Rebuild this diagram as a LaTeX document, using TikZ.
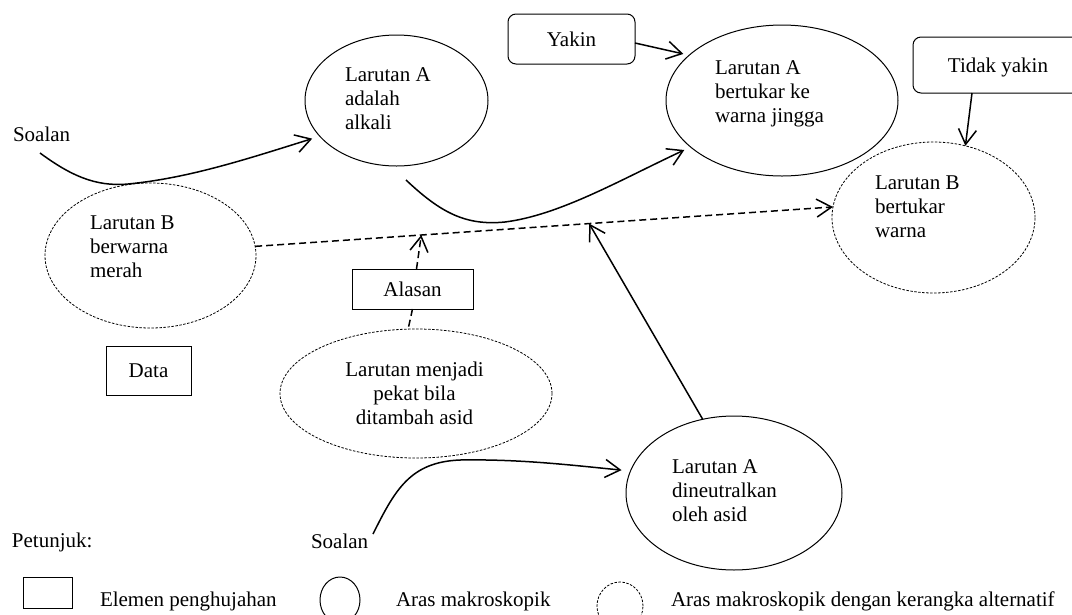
\documentclass[tikz,border=0pt]{standalone}
\usepackage{fontspec}
\setmainfont{Liberation Serif}
\usetikzlibrary{shapes.geometric,arrows.meta,calc}
\begin{document}
\begin{tikzpicture}[x=1pt,y=-1pt,
  txt/.style={font=\fontsize{21}{23.7}\selectfont, inner sep=0pt, outer sep=0pt},
  mtxt/.style={txt, align=left, anchor=north west},
  btxt/.style={txt, anchor=base west},
  macro/.style={ellipse, draw, line width=1pt, inner sep=0pt, outer sep=0pt},
  altern/.style={ellipse, draw, line width=0.8pt, dash pattern=on 2.5pt off 1.5pt, inner sep=0pt, outer sep=0pt},
  elem/.style={rectangle, draw, line width=1pt, inner sep=0pt, outer sep=0pt,
    font=\fontsize{21}{23.7}\selectfont, text height=14.5pt, text depth=0pt},
  conf/.style={elem, rounded corners=8pt},
  conn/.style={line width=1.5pt, -{Straight Barb[length=15pt,width=18pt]}},
  dconn/.style={conn, dash pattern=on 7pt off 4pt},
  dline/.style={line width=1.5pt, dash pattern=on 7pt off 4pt},
]
\useasboundingbox (0,0) rectangle (1072,614);
\clip (0,0) rectangle (1072,614);

% shapes
\node[macro, minimum width=183pt, minimum height=131pt] (A1) at (396.5,100.5) {};
\node[macro, minimum width=232pt, minimum height=151pt] (A2) at (782,100.5) {};
\node[macro, minimum width=216pt, minimum height=154pt] (A3) at (734,493) {};
\node[altern, minimum width=211pt, minimum height=145pt] (B1) at (150.5,255.5) {};
\node[altern, minimum width=203pt, minimum height=151pt] (B2) at (933.5,217.5) {};
\node[altern, minimum width=272pt, minimum height=129pt] (P) at (416,393.5) {};

\node[conf, minimum width=127pt, minimum height=50pt] (yakin) at (571.5,39) {Yakin};
\node[conf, minimum width=170pt, minimum height=56pt] (tidak) at (998,65) {Tidak yakin};
\node[elem, minimum width=85pt, minimum height=49pt] (data) at (148.5,370.5) {Data};
\node[elem, minimum width=121pt, minimum height=40pt] (alasan) at (412.5,289) {Alasan};

% texts in shapes
\node[mtxt] (tA1) at (345,65.4) {\strut Larutan A\\adalah\\alkali};
\node[mtxt] (tA2) at (715,58.4) {\strut Larutan A\\bertukar ke\\warna jingga};
\node[mtxt] (tA3) at (672,457.4) {\strut Larutan A\\dineutralkan\\oleh asid};
\node[mtxt] (tB1) at (90,213.4) {\strut Larutan B\\berwarna\\merah};
\node[mtxt] (tB2) at (875,173.4) {\strut Larutan B\\bertukar\\warna};
\node[txt, align=center, anchor=north] (tP) at (414.5,360.4) {\strut Larutan menjadi\\pekat bila\\ditambah asid};

% free labels
\node[btxt] (soalan1) at (13,141) {Soalan};
\node[btxt] (soalan2) at (311,548) {Soalan};
\node[btxt] (petunjuk) at (12,547) {Petunjuk:};

% connectors
\coordinate (s1) at (40,153);
\coordinate (s2) at (373,534);
\draw[conn, shorten >=8pt] (s1) .. controls (70,175) and (95,187) .. (128,184)
  .. controls (190,178) and (250,158) .. (A1.205);
\draw[conn, shorten >=7pt] ($(A1.south)+(9.5,14)$) .. controls (440,212) and (465,226) .. (505,222)
  .. controls (560,215) and (620,180) .. (A2.207);
\draw[conn, shorten >=6pt] ($(yakin.east)+(0,4)$) -- (A2.154);
\draw[conn] ($(tidak.south west)+(59,0)$) -- (B2.66);
\draw[dconn] (B1.5) -- coordinate[pos=0.2875] (m1) coordinate[pos=0.578] (m2) (B2.174);
\draw[dconn] ($(alasan.north)+(4,0)$) -- (m1);
\draw[conn] (A3.113) -- (m2);
\draw[dline] (alasan.south) -- (P.97);
\draw[conn, shorten >=9pt] (s2) .. controls (395,490) and (410,462) .. (460,460)
  .. controls (520,459) and (570,465) .. (A3.168);

% legend
\node[elem, minimum width=49pt, minimum height=31pt] (legbox) at (47.5,592.5) {};
\node[btxt] (leg1) at (100,606) {Elemen penghujahan};
\node[macro, minimum width=40pt, minimum height=46pt] (legmac) at (340,600) {};
\node[btxt] (leg2) at (396,606) {Aras makroskopik};
\node[altern, minimum width=46pt, minimum height=48pt] (legalt) at (620,606) {};
\node[btxt] (leg3) at (671,606) {Aras makroskopik dengan kerangka alternatif};
\end{tikzpicture}
\end{document}
